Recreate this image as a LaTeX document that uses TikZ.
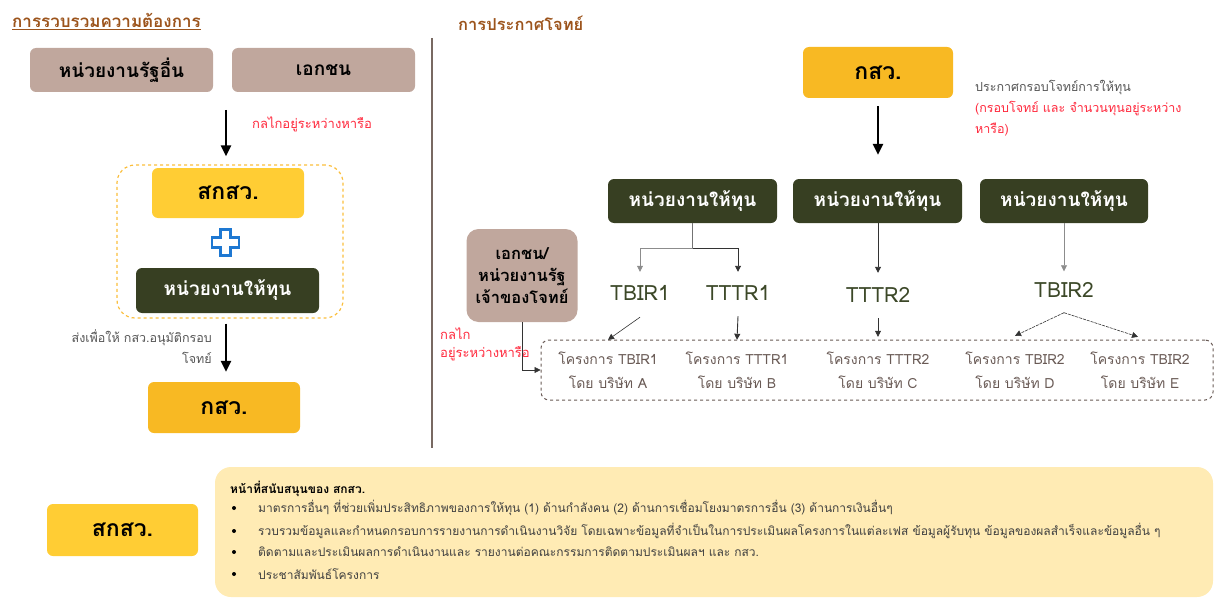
\documentclass[tikz,border=0pt]{standalone}
\usepackage{fontspec}
\setmainfont[Script=Thai]{Loma}
\usetikzlibrary{arrows.meta}
\definecolor{cBrown}{RGB}{156,84,28}
\definecolor{cTaupe}{RGB}{192,167,157}
\definecolor{cYel}{RGB}{255,205,52}
\definecolor{cOra}{RGB}{248,185,35}
\definecolor{cOlive}{RGB}{55,63,34}
\definecolor{cTxtOl}{RGB}{60,72,40}
\definecolor{cRed}{RGB}{255,40,60}
\definecolor{cGrayT}{RGB}{85,85,85}
\definecolor{cProj}{RGB}{105,90,85}
\definecolor{cPanel}{RGB}{255,235,180}
\definecolor{cDiv}{RGB}{120,105,98}
\definecolor{cBlue}{RGB}{30,120,210}
\definecolor{cDash}{RGB}{250,190,60}
\tikzset{
  boxbase/.style={rounded corners=6pt, inner sep=0pt, align=center, font=\bfseries\fontsize{19}{22}\selectfont},
  taupebox/.style={boxbase, fill=cTaupe, text=black},
  yelbox/.style={boxbase, fill=cYel, text=black, font=\bfseries\fontsize{23}{26}\selectfont},
  orabox/.style={boxbase, fill=cOra, text=black, font=\bfseries\fontsize{23}{26}\selectfont},
  olivebox/.style={boxbase, fill=cOlive, text=white},
  codelbl/.style={inner sep=0pt, text=cTxtOl, font=\fontsize{21}{24}\selectfont},
  projlbl/.style={inner sep=0pt, text=cProj, align=center, minimum height=60pt, font=\fontsize{14}{24}\selectfont},
  note/.style={inner sep=0pt, font=\fontsize{13}{21}\selectfont},
  bigarr/.style={line width=2.5pt, -{Triangle[length=11pt,width=10pt]}},
  darkarr/.style={draw=black!80, line width=0.9pt, -{Triangle[length=6pt,width=6pt]}},
  lightarr/.style={draw=black!45, line width=0.7pt, -{Triangle[length=6pt,width=6pt]}},
  paneltxt/.style={inner sep=0pt, anchor=west, text=black!75, font=\fontsize{12}{14}\selectfont},
}
\begin{document}
\begin{tikzpicture}[x=1pt,y=-1pt]
\useasboundingbox (0,0) rectangle (1215,599);

% ---------- left section ----------
\node[inner sep=0pt, anchor=west, text=cBrown, font=\bfseries\fontsize{17}{19}\selectfont] (t1) at (12,20) {การรวบรวมความต้องการ};
\draw[cBrown, line width=1pt] ([yshift=-2pt]t1.south west) -- ([yshift=-2pt]t1.south east);

\node[taupebox, minimum width=183pt, minimum height=44pt] (gov) at (121.5,70) {หน่วยงานรัฐอื่น};
\node[taupebox, minimum width=183pt, minimum height=44pt] (pri) at (323.5,70) {เอกชน};

\node[draw=cDash, dashed, line width=1.2pt, rounded corners=18pt, minimum width=226pt, minimum height=153pt, inner sep=0pt] (grp) at (230,241.5) {};
\node[yelbox, minimum width=152pt, minimum height=50pt] (skk) at (228,193) {สกสว.};
\node[olivebox, minimum width=183pt, minimum height=45pt] (hf0) at (227.5,290.5) {หน่วยงานให้ทุน};
\draw[cBlue, line width=2.2pt, fill=white, line join=miter]
  (220.5,229.5) -- (230.5,229.5) -- (230.5,237.5) -- (239,237.5) -- (239,247.5) -- (230.5,247.5)
  -- (230.5,255.5) -- (220.5,255.5) -- (220.5,247.5) -- (212,247.5) -- (212,237.5) -- (220.5,237.5) -- cycle;

\coordinate (a1s) at (226,110);
\draw[bigarr] (a1s) -- ([yshift=8pt]grp.north -| a1s);
\node[note, anchor=west, text=cRed] (lbl1) at (252,124) {กลไกอยู่ระหว่างหารือ};

\node[orabox, minimum width=152pt, minimum height=51pt] (gk1) at (224,407.5) {กสว.};
\draw[bigarr] ([yshift=-5pt]grp.south -| a1s) -- ([yshift=10pt]gk1.north -| a1s);
\node[note, anchor=east, align=right, text=cGrayT, font=\fontsize{12.5}{21}\selectfont] (lbl2) at (212,347) {ส่งเพื่อให้ กสว.อนุมัติกรอบ\\โจทย์};

% divider
\draw[cDiv, line width=2pt] (432,38) -- (432,448);

% ---------- right section ----------
\node[inner sep=0pt, anchor=west, text=cBrown, font=\bfseries\fontsize{16.5}{19}\selectfont] (t2) at (458,23) {การประกาศโจทย์};

\node[orabox, minimum width=150pt, minimum height=51pt] (gk2) at (878,72.5) {กสว.};
\node[note, anchor=north west, align=left, text=cGrayT, font=\fontsize{12.5}{21}\selectfont] (lbl3) at (975,80) {ประกาศกรอบโจทย์การให้ทุน\\\textcolor{cRed}{(กรอบโจทย์ และ จำนวนทุนอยู่ระหว่าง}\\\textcolor{cRed}{หารือ)}};

\node[olivebox, minimum width=169pt, minimum height=44pt] (hf1) at (692.5,201) {หน่วยงานให้ทุน};
\node[olivebox, minimum width=169pt, minimum height=44pt] (hf2) at (877.5,201) {หน่วยงานให้ทุน};
\node[olivebox, minimum width=168pt, minimum height=44pt] (hf3) at (1064,201) {หน่วยงานให้ทุน};

\draw[bigarr] ([yshift=-8pt]gk2.south) -- ([yshift=24pt]hf2.north -| gk2.south);

\node[codelbl, minimum height=42pt] (tbir1) at (640,293) {TBIR1};
\node[codelbl, minimum height=42pt] (tttr1) at (738,293) {TTTR1};
\node[codelbl, minimum height=44pt] (tttr2) at (878,295) {TTTR2};
\node[codelbl, minimum height=37pt] (tbir2) at (1064,290) {TBIR2};

\coordinate (j1) at (692.5,248);
\draw[black!55, line width=0.8pt] (hf1.south) -- (j1);
\draw[lightarr] (j1) -| (tbir1.north);
\draw[darkarr] (j1) -| (tttr1.north);
\draw[darkarr] (hf2.south -| tttr2) -- (tttr2.north);
\draw[lightarr] (hf3.south) -- (tbir2.north);

\node[draw=cProj, dashed, line width=1pt, rounded corners=8pt, minimum width=672pt, minimum height=60pt, inner sep=0pt] (pbox) at (877,370) {};
\node[projlbl] (pA) at (608,370) {โครงการ TBIR1\\โดย บริษัท A};
\node[projlbl] (pB) at (737,370) {โครงการ TTTR1\\โดย บริษัท B};
\node[projlbl] (pC) at (878,370) {โครงการ TTTR2\\โดย บริษัท C};
\node[projlbl] (pD) at (1015,370) {โครงการ TBIR2\\โดย บริษัท D};
\node[projlbl] (pE) at (1140,370) {โครงการ TBIR2\\โดย บริษัท E};

\draw[darkarr, line width=0.6pt] ([yshift=-3pt]tbir1.south) -- (pA.north);
\draw[darkarr] ([yshift=-2pt]tttr1.south) -- (pB.north);
\draw[darkarr, line width=0.6pt] ([yshift=-1pt]tttr2.south) -- ([yshift=3pt]pC.north);
\draw[darkarr, line width=0.6pt, dash pattern=on 3pt off 1pt] ([yshift=-4pt]tbir2.south) -- ([yshift=4pt]pD.north);
\draw[darkarr, line width=0.6pt, dash pattern=on 3pt off 1pt] ([yshift=-4pt]tbir2.south) -- ([xshift=-2pt,yshift=3pt]pE.north);

\node[taupebox, rounded corners=12pt, minimum width=111pt, minimum height=93pt, font=\bfseries\fontsize{16.5}{22}\selectfont] (own) at (522,275.5) {เอกชน/\\หน่วยงานรัฐ\\เจ้าของโจทย์};
\draw[darkarr, line width=0.6pt] (own.south) |- (pbox.west);
\node[note, anchor=north west, align=left, text=cRed, font=\fontsize{13}{18}\selectfont] (lbl4) at (440,328) {กลไก\\อยู่ระหว่างหารือ};

% ---------- bottom ----------
\node[yelbox, minimum width=151pt, minimum height=52pt] (skk2) at (122.5,530) {สกสว.};
\node[fill=cPanel, rounded corners=16pt, minimum width=998pt, minimum height=130pt, inner sep=0pt] (panel) at (714,532) {};
\node[paneltxt, text=black, font=\bfseries\fontsize{12}{14}\selectfont] (ptitle) at (230,489) {หน้าที่สนับสนุนของ สกสว.};
\foreach \yy in {508,531,552,574} { \fill[black] (234,\yy) circle (2pt); }
\node[paneltxt] (b1) at (258,508) {มาตรการอื่นๆ ที่ช่วยเพิ่มประสิทธิภาพของการให้ทุน (1) ด้านกำลังคน (2) ด้านการเชื่อมโยงมาตรการอื่น (3) ด้านการเงินอื่นๆ};
\node[paneltxt] (b2) at (258,531) {รวบรวมข้อมูลและกำหนดกรอบการรายงานการดำเนินงานวิจัย โดยเฉพาะข้อมูลที่จำเป็นในการประเมินผลโครงการในแต่ละเฟส ข้อมูลผู้รับทุน ข้อมูลของผลสำเร็จและข้อมูลอื่น ๆ};
\node[paneltxt] (b3) at (258,552) {ติดตามและประเมินผลการดำเนินงานและ รายงานต่อคณะกรรมการติดตามประเมินผลฯ และ กสว.};
\node[paneltxt] (b4) at (258,574) {ประชาสัมพันธ์โครงการ};
\end{tikzpicture}
\end{document}
